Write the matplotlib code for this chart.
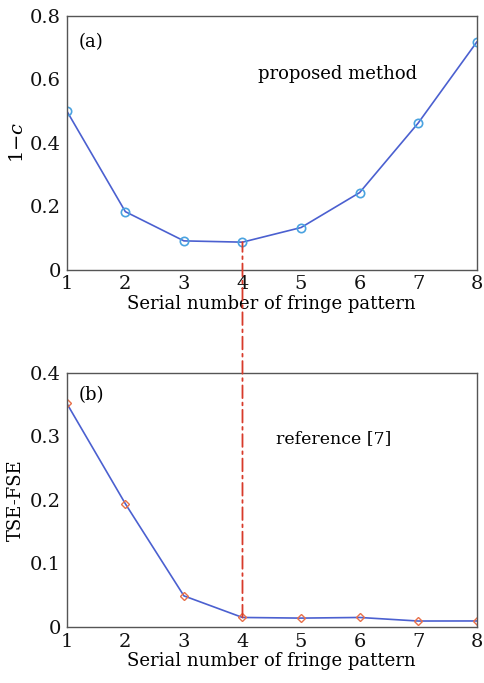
import numpy as np
from matplotlib import pyplot as plt
from matplotlib.patches import ConnectionPatch

plt.rcParams['font.family'] = ['DejaVu Serif']
plt.rcParams['mathtext.fontset'] = 'dejavuserif'

serial = [1, 2, 3, 4, 5, 6, 7, 8]
one_minus_c = [0.50, 0.183, 0.091, 0.087, 0.133, 0.243, 0.462, 0.717]
tse_fse = [0.352, 0.194, 0.049, 0.015, 0.014, 0.015, 0.0094, 0.0095]

line_col = '#4b60d0'
frame_col = '#555555'

fig = plt.figure(figsize=(4.84, 6.83), dpi=100)
ax1 = fig.add_axes([0.138, 0.605, 0.847, 0.372])
ax2 = fig.add_axes([0.138, 0.082, 0.847, 0.372])

ax1.plot(serial, one_minus_c, color=line_col, lw=1.2, marker='o', ms=6,
         mfc='none', mec='#4aa3e0', mew=1.2)
ax2.plot(serial, tse_fse, color=line_col, lw=1.2, marker='D', ms=4.5,
         mfc='none', mec='#e8704a', mew=1.0)

ax1.set_ylim(0, 0.8)
ax1.set_yticks([0, 0.2, 0.4, 0.6, 0.8])
ax1.set_yticklabels(['0', '0.2', '0.4', '0.6', '0.8'])
ax2.set_ylim(0, 0.4)
ax2.set_yticks([0, 0.1, 0.2, 0.3, 0.4])
ax2.set_yticklabels(['0', '0.1', '0.2', '0.3', '0.4'])

for ax in (ax1, ax2):
    ax.set_xlim(1, 8)
    ax.set_xticks(serial)
    ax.tick_params(length=0, labelsize=14, pad=4, colors='#111111')
    for s in ax.spines.values():
        s.set_color(frame_col)
        s.set_linewidth(1.0)
    ax.set_xlabel('Serial number of fringe pattern', fontsize=13, labelpad=1)

ax1.set_ylabel('1$-$$c$', fontsize=14, labelpad=2)
ax2.set_ylabel('TSE-FSE', fontsize=13, labelpad=4)

ax1.text(0.03, 0.93, '(a)', transform=ax1.transAxes, fontsize=13, va='top')
ax1.text(0.66, 0.77, 'proposed method', transform=ax1.transAxes, fontsize=13,
         ha='center', va='center')
ax2.text(0.03, 0.95, '(b)', transform=ax2.transAxes, fontsize=13, va='top')
ax2.text(0.65, 0.74, 'reference [7]', transform=ax2.transAxes, fontsize=12.5,
         ha='center', va='center')

# red dash-dot guide from the bottom point at 4 to the top point at 4
con = ConnectionPatch(xyA=(4, tse_fse[3]), coordsA=ax2.transData,
                      xyB=(4, one_minus_c[3]), coordsB=ax1.transData,
                      color='#d83a2a', lw=1.3, linestyle=(0, (7, 2.5, 1.5, 2.5)),
                      zorder=5)
fig.add_artist(con)

plt.savefig('out.png', dpi=100)
